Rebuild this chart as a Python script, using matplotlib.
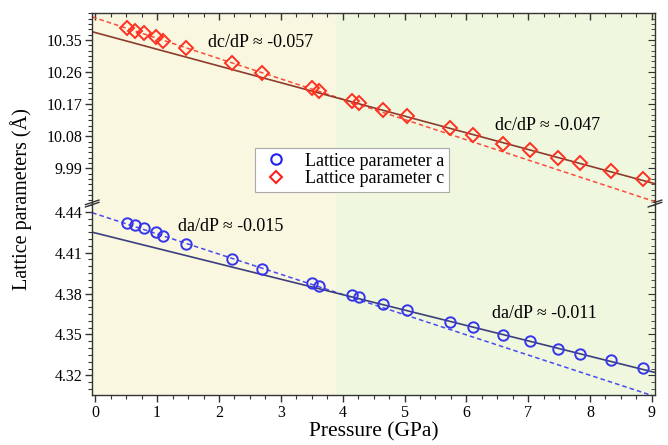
import numpy as np
import matplotlib.pyplot as plt
from matplotlib.ticker import MultipleLocator, AutoMinorLocator

plt.rcParams['font.family'] = ['Liberation Serif', 'DejaVu Serif']

# data
pressure = [0.52, 0.64, 0.78, 0.98, 1.09, 1.47, 2.21, 2.70, 3.50, 3.62,
            4.15, 4.27, 4.66, 5.04, 5.74, 6.11, 6.60, 7.03, 7.49, 7.83, 8.34, 8.86]
lat_a = [4.4315, 4.4300, 4.4278, 4.4251, 4.4222, 4.4163, 4.4051, 4.3979, 4.3879, 4.3857,
         4.3789, 4.3772, 4.3723, 4.3679, 4.3591, 4.3552, 4.3495, 4.3449, 4.3395, 4.3358,
         4.3310, 4.3255]
lat_c = [10.383, 10.376, 10.369, 10.359, 10.348, 10.327, 10.285, 10.258, 10.214, 10.207,
         10.180, 10.172, 10.154, 10.137, 10.102, 10.083, 10.058, 10.041, 10.018, 10.004,
         9.982, 9.960]

# linear fits: (intercept, slope)
fit_a_low = (4.4385, -0.0148)
fit_a_high = (4.4244, -0.0113)
fit_c_low = (10.412, -0.0570)
fit_c_high = (10.371, -0.0469)

labels_slope = ['dc/dP ≈ -0.057', 'dc/dP ≈ -0.047', 'da/dP ≈ -0.015', 'da/dP ≈ -0.011']

split_p = 3.9
xmin, xmax = -0.05, 9.05

fig = plt.figure(figsize=(6.68, 4.45), dpi=100)
ax_c = fig.add_axes([0.138, 0.5427, 0.8425, 0.4273])
ax_a = fig.add_axes([0.138, 0.112, 0.8425, 0.4307])

yellow = '#f9f7e0'
green = '#eff8de'
xx = np.array([xmin, xmax])

for ax in (ax_c, ax_a):
    ax.axvspan(xmin, split_p, color=yellow, lw=0, zorder=0)
    ax.axvspan(split_p, xmax, color=green, lw=0, zorder=0)
    ax.set_xlim(xmin, xmax)
    for s in ax.spines.values():
        s.set_color('#333333')
        s.set_linewidth(1.0)

# c panel
ax_c.plot(xx, fit_c_low[0] + fit_c_low[1] * xx, ls=(0, (3, 2)), color='#ff4a3a', lw=1.1, zorder=2)
ax_c.plot(xx, fit_c_high[0] + fit_c_high[1] * xx, ls='-', color='#8e3b2c', lw=1.2, zorder=2)
ax_c.plot(pressure, lat_c, ls='none', marker='D', ms=6.8, mfc='none', mec='#ff3020', mew=1.4, zorder=3)
ax_c.set_ylim(9.891, 10.425)
ax_c.set_yticks([9.99, 10.08, 10.17, 10.26, 10.35])
ax_c.yaxis.set_minor_locator(AutoMinorLocator(6))
ax_c.spines['bottom'].set_visible(False)
ax_c.tick_params(axis='x', which='both', bottom=False, labelbottom=False, top=True, direction='in')

# a panel
ax_a.plot(xx, fit_a_low[0] + fit_a_low[1] * xx, ls=(0, (3, 2)), color='#4a4af0', lw=1.1, zorder=2)
ax_a.plot(xx, fit_a_high[0] + fit_a_high[1] * xx, ls='-', color='#3c3f7c', lw=1.2, zorder=2)
ax_a.plot(pressure, lat_a, ls='none', marker='o', ms=7.5, mfc='none', mec='#3535ee', mew=1.4, zorder=3)
ax_a.set_ylim(4.3055, 4.446)
ax_a.set_yticks([4.32, 4.35, 4.38, 4.41, 4.44])
ax_a.yaxis.set_minor_locator(AutoMinorLocator(6))
ax_a.spines['top'].set_visible(False)
ax_a.xaxis.set_major_locator(MultipleLocator(1))
ax_a.xaxis.set_minor_locator(MultipleLocator(0.25))
ax_a.tick_params(axis='x', which='both', direction='out', top=False)

ax_c.xaxis.set_major_locator(MultipleLocator(1))
ax_c.xaxis.set_minor_locator(MultipleLocator(0.25))

for ax in (ax_c, ax_a):
    ax.tick_params(axis='y', which='both', direction='out', left=True, right=False)
    ax.tick_params(which='major', length=5, width=1, color='#333333', labelsize=11.5, pad=2)
    ax.tick_params(which='minor', length=3, width=0.8, color='#333333')
    # inward ticks on right side
    sec = ax.secondary_yaxis('right')
    sec.set_yticks(ax.get_yticks())
    sec.yaxis.set_minor_locator(AutoMinorLocator(6))
    sec.tick_params(which='both', direction='in', labelright=False, color='#333333')
    sec.tick_params(which='major', length=5)
    sec.tick_params(which='minor', length=3)
    sec.spines['right'].set_visible(False)

ax_c.tick_params(axis='x', which='major', length=5)
ax_c.tick_params(axis='x', which='minor', length=3)

# break marks
d = 0.012
for ax, yb in ((ax_c, 0.006), (ax_a, 0.994)):
    for xb in (0.0, 1.0):
        ax.plot([xb - d, xb + d], [yb - 0.012, yb + 0.012], transform=ax.transAxes,
                color='#333333', lw=1.0, clip_on=False, zorder=5)

# slope texts
ax_c.text(2.68, 10.343, labels_slope[0], fontsize=13, ha='center', va='center')
ax_c.text(7.31, 10.109, labels_slope[1], fontsize=13, ha='center', va='center')
ax_a.text(2.19, 4.4295, labels_slope[2], fontsize=13, ha='center', va='center')
ax_a.text(7.26, 4.3650, labels_slope[3], fontsize=13, ha='center', va='center')

# legend
h_a = plt.Line2D([], [], ls='none', marker='o', ms=7.5, mfc='none', mec='#2020f0', mew=1.5)
h_c = plt.Line2D([], [], ls='none', marker='D', ms=6.5, mfc='none', mec='#ff2020', mew=1.5)
leg = fig.legend([h_a, h_c], ['Lattice parameter a', 'Lattice parameter c'],
                 loc='center', bbox_to_anchor=(352 / 668, 1 - 170 / 445), fontsize=13,
                 frameon=True, fancybox=False, framealpha=1, edgecolor='#aaaaaa',
                 handletextpad=0.7, labelspacing=0.05, borderpad=0.25, handlelength=1.8,
                 borderaxespad=0)
leg.get_frame().set_linewidth(0.8)

ax_a.set_xlabel('Pressure (GPa)', fontsize=15.5, labelpad=1)
fig.text(0.031, 1 - 199 / 445, 'Lattice parameters (Å)', rotation=90, fontsize=14.5,
         ha='center', va='center')

plt.savefig('out.png', dpi=100)
